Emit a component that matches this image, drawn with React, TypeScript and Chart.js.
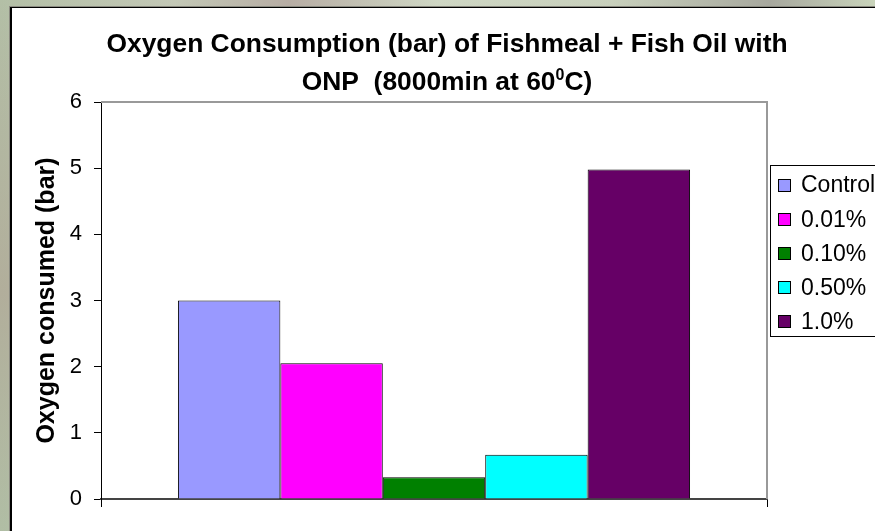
import React, { useEffect, useRef } from 'react';
import { Chart, registerables } from 'chart.js';

Chart.register(...registerables);

// Single category, one bar per ONP level
const categories = [''];
const seriesNames = ['Control', '0.01%', '0.10%', '0.50%', '1.0%'];
const seriesValues = [3.0, 2.05, 0.33, 0.67, 4.98];
const seriesColors = ['#9999FF', '#FF00FF', '#008000', '#00FFFF', '#660066'];
const yTickValues = [0, 1, 2, 3, 4, 5, 6];

const titleLine1 = 'Oxygen Consumption (bar) of Fishmeal + Fish Oil with';
// second title line: text, superscript, text
const titleLine2Parts = ['ONP  (8000min at 60', '0', 'C)'];
const yAxisTitle = 'Oxygen consumed (bar)';

const FONT = '"Liberation Sans", Arial, Helvetica, sans-serif';

const decorPlugin = {
  id: 'sheetDecor',
  afterDraw(chart: any) {
    const { ctx, chartArea } = chart;
    const { left, top, right, bottom } = chartArea;
    ctx.save();

    // plot-area frame (top and right edges)
    ctx.strokeStyle = '#999999';
    ctx.lineWidth = 2;
    ctx.beginPath();
    ctx.moveTo(left, top);
    ctx.lineTo(right, top);
    ctx.lineTo(right, bottom);
    ctx.stroke();

    // chart title, two lines with a superscript degree digit
    ctx.fillStyle = '#000';
    ctx.textAlign = 'left';
    ctx.textBaseline = 'alphabetic';
    const cx = 447;
    const mainFont = `bold 26.4px ${FONT}`;
    const supFont = `bold 16px ${FONT}`;
    ctx.font = mainFont;
    const w1 = ctx.measureText(titleLine1).width;
    ctx.fillText(titleLine1, cx - w1 / 2, 52);
    const [a, sup, b] = titleLine2Parts;
    const wa = ctx.measureText(a).width;
    const wb = ctx.measureText(b).width;
    ctx.font = supFont;
    const ws = ctx.measureText(sup).width;
    let x = cx - (wa + ws + wb) / 2;
    ctx.font = mainFont;
    ctx.fillText(a, x, 90);
    x += wa;
    ctx.font = supFont;
    ctx.fillText(sup, x, 79.5);
    x += ws;
    ctx.font = mainFont;
    ctx.fillText(b, x, 90);

    // vertical axis title
    ctx.save();
    ctx.translate(53.5, (top + bottom) / 2);
    ctx.rotate(-Math.PI / 2);
    ctx.font = `bold 25px ${FONT}`;
    ctx.textAlign = 'center';
    ctx.fillText(yAxisTitle, 0, 0);
    ctx.restore();

    // legend box
    ctx.strokeStyle = '#000';
    ctx.lineWidth = 1;
    ctx.strokeRect(770.5, 165.5, 200, 171);
    ctx.font = `23px ${FONT}`;
    ctx.textBaseline = 'middle';
    chart.data.datasets.forEach((ds: any, i: number) => {
      const cy = 185 + i * 34.2;
      ctx.fillStyle = ds.backgroundColor;
      ctx.fillRect(778, Math.round(cy - 6.5), 13, 13);
      ctx.strokeStyle = '#000';
      ctx.strokeRect(778.5, Math.round(cy - 6.5) + 0.5, 12, 12);
      ctx.fillStyle = '#000';
      ctx.fillText(ds.label, 801, cy + 1);
    });

    ctx.restore();
  },
};

export default function App() {
  const canvasRef = useRef<HTMLCanvasElement | null>(null);

  useEffect(() => {
    const canvas = canvasRef.current;
    if (!canvas) return;
    const chart = new Chart(canvas, {
      type: 'bar',
      data: {
        labels: categories,
        datasets: seriesNames.map((name, i) => ({
          label: name,
          data: [seriesValues[i]],
          backgroundColor: seriesColors[i],
          borderColor: '#000000',
          borderWidth: 1,
          barPercentage: 1,
          categoryPercentage: 0.769,
        })),
      },
      options: {
        responsive: false,
        maintainAspectRatio: false,
        animation: false,
        devicePixelRatio: 1,
        layout: { padding: { left: 0, top: 102, right: 108, bottom: 22 } },
        plugins: {
          legend: { display: false },
          title: { display: false },
          tooltip: { enabled: false },
        },
        scales: {
          x: {
            type: 'category',
            offset: true,
            grid: {
              offset: true,
              drawOnChartArea: false,
              drawTicks: true,
              tickLength: 8,
              color: '#000000',
            },
            border: { display: true, color: '#444444', width: 2 },
            ticks: { display: false },
            afterFit: (scale: any) => {
              scale.height = 10;
            },
          },
          y: {
            min: 0,
            max: 6,
            afterBuildTicks: (scale: any) => {
              scale.ticks = yTickValues.map((v) => ({ value: v }));
            },
            grid: {
              drawOnChartArea: false,
              drawTicks: true,
              tickLength: 7,
              color: '#000000',
            },
            border: { display: true, color: '#000000', width: 1 },
            ticks: {
              padding: 12,
              color: '#000000',
              font: { family: FONT, size: 22 },
            },
            afterFit: (scale: any) => {
              scale.width = 101;
            },
          },
        },
      },
      plugins: [decorPlugin],
    });
    return () => chart.destroy();
  }, []);

  return (
    <div
      style={{
        position: 'fixed',
        left: 0,
        top: 0,
        width: 875,
        height: 531,
        overflow: 'hidden',
        background:
          'linear-gradient(180deg, rgba(170,184,156,0.0) 0%, rgba(176,160,146,0.55) 55%, rgba(170,186,160,0.3) 100%), linear-gradient(90deg, #b3bfa6 0%, #c3c8b6 20%, #b7ada4 33%, #cfd7c4 50%, #c8d0bc 70%, #a7a89e 88%, #c9d4bb 100%)',
      }}
    >
      <div
        style={{
          position: 'absolute',
          left: 10,
          top: 7,
          width: 900,
          height: 600,
          background: '#ffffff',
          borderLeft: '2px solid #000',
          borderTop: '1px solid #000',
          boxShadow: '-1px -1px 0 #8a8a80',
        }}
      />
      <canvas
        ref={canvasRef}
        width={875}
        height={531}
        style={{ position: 'absolute', left: 0, top: 0, width: 875, height: 531 }}
      />
    </div>
  );
}
